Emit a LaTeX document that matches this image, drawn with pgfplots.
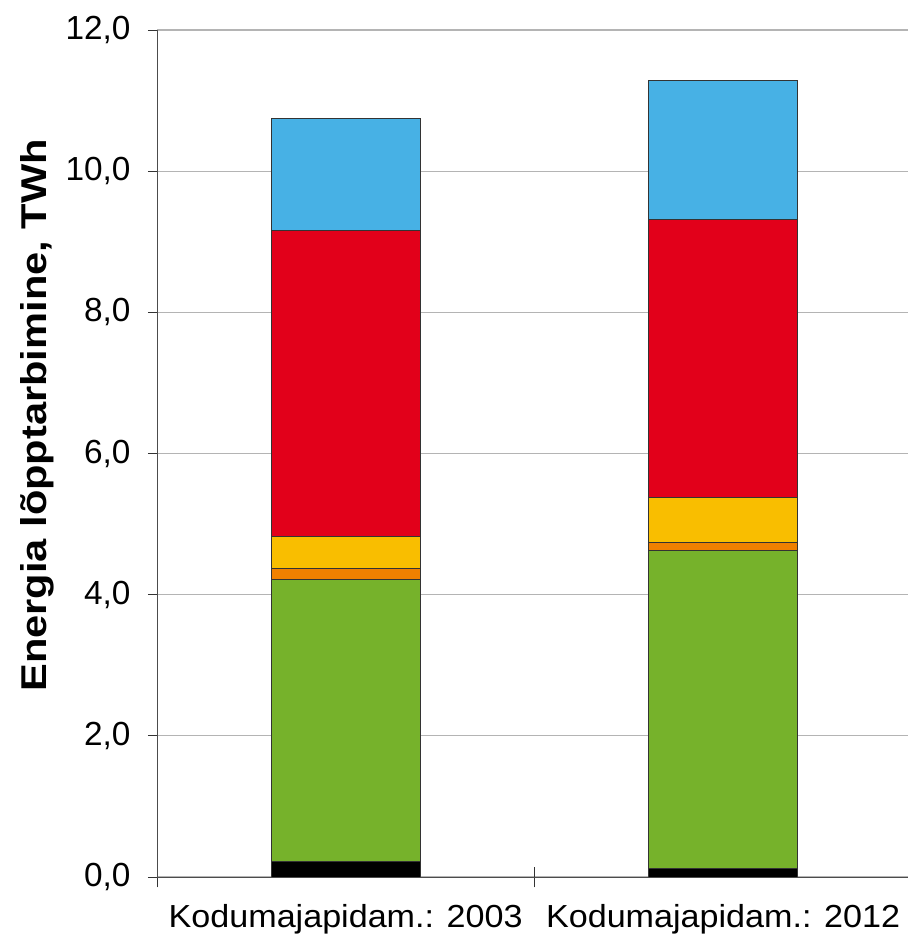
\documentclass[border=0pt]{standalone}
\usepackage{pgfplots}
\pgfplotsset{compat=1.18}
\usepackage{fontspec}
\setmainfont{Liberation Sans}
\definecolor{cblack}{HTML}{000000}
\definecolor{cgreen}{HTML}{76B22B}
\definecolor{corange}{HTML}{F08000}
\definecolor{cyellow}{HTML}{F9BE00}
\definecolor{cred}{HTML}{E2001A}
\definecolor{cblue}{HTML}{47B1E5}
\definecolor{gridgray}{HTML}{B4B4B4}

\begin{document}
\begin{tikzpicture}
\begin{axis}[
  scale only axis,
  width=751bp,
  height=847bp,
  ybar stacked,
  bar width=149bp,
  xmin=-0.5, xmax=1.49,
  ymin=0, ymax=12,
  ytick={0,2,4,6,8,10,12},
  yticklabel={\pgfmathprintnumber[fixed,fixed zerofill,precision=1,use comma]{\tick}},
  /pgf/number format/assume math mode=true,
  xtick={-0.5,0.5},
  xticklabels={},
  extra x ticks={0,1},
  extra x tick labels={\scalebox{1.07}[1]{Kodumajapidam.: 2003},\scalebox{1.07}[1]{Kodumajapidam.: 2012}},
  extra x tick style={grid=none,
    tick style={draw=none}, x tick style={draw=none},
    tick label style={font=\fontsize{32}{36}\selectfont, yshift=-15bp}},
  axis lines*=left,
  axis line style={draw=black!70, line width=0.9bp},
  tick style={draw=black!80, line width=0.9bp},
  tick align=outside,
  major tick length=9bp,
  x tick style={/pgfplots/major tick length=21bp, /pgfplots/tick align=center},
  ymajorgrids=true,
  grid style={gridgray, line width=1.2bp},
  tick label style={font=\fontsize{33.5}{36}\selectfont},
  y tick label style={xshift=-14bp},
  ylabel={\scalebox{1.16}[1]{\bfseries Energia lõpptarbimine, TWh}},
  ylabel style={font=\fontsize{36}{40}\selectfont,
    at={(axis description cs:-0.16,0.545)}, anchor=center},
  every axis plot/.append style={draw=black!80, line width=0.8bp},
]
\addplot[fill=cblack] coordinates {(0,0.22) (1,0.12)};
\addplot[fill=cgreen] coordinates {(0,3.99) (1,4.51)};
\addplot[fill=corange] coordinates {(0,0.16) (1,0.11)};
\addplot[fill=cyellow] coordinates {(0,0.45) (1,0.64)};
\addplot[fill=cred] coordinates {(0,4.34) (1,3.94)};
\addplot[fill=cblue] coordinates {(0,1.59) (1,1.97)};
\end{axis}
\pgfresetboundingbox
\path (-157bp,-58bp) rectangle (751bp,877bp);
\end{tikzpicture}
\end{document}
